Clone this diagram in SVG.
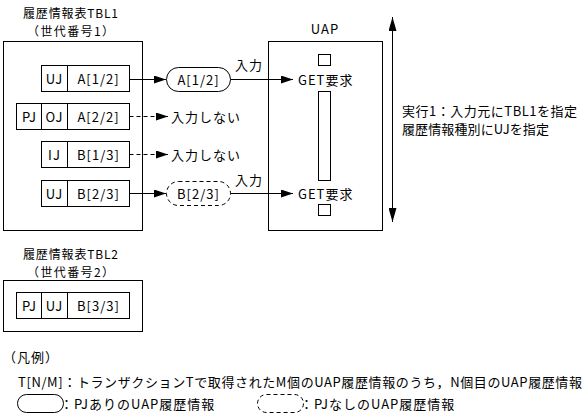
<svg xmlns="http://www.w3.org/2000/svg" width="588" height="420" viewBox="0 0 588 420">
<style>
text{font-family:"Noto Sans CJK JP","Noto Sans",sans-serif;font-size:13px;fill:#000;letter-spacing:1px;dominant-baseline:central}
.m{text-anchor:middle}
.t{font-size:12px}
.b{fill:#fff;stroke:#000;stroke-width:1}
.ln{fill:none;stroke:#000;stroke-width:1}
.d{stroke-dasharray:4 3}
</style>
<defs>
<marker id="ah" markerWidth="12" markerHeight="8" refX="12" refY="4" orient="auto" markerUnits="userSpaceOnUse"><path d="M0,0 L12,4 L0,8 Z" fill="#000"/></marker>
<marker id="ah2" markerWidth="14" markerHeight="8" refX="14" refY="4" orient="auto-start-reverse" markerUnits="userSpaceOnUse"><path d="M0,0 L14,4 L0,8 Z" fill="#000"/></marker>
</defs>
<rect width="588" height="420" fill="#fff"/>

<g id="tbl1">
<text class="m t" x="71" y="12" textLength="96">履歴情報表TBL1</text>
<text class="m t" x="71" y="30" textLength="88">（世代番号1）</text>
<rect class="b" x="3.5" y="41.5" width="139" height="189"/>
</g>
<g id="row1">
<rect class="b" x="41.5" y="65.5" width="88" height="26"/>
<line class="ln" x1="67.5" y1="65.5" x2="67.5" y2="91.5"/>
<text class="m" x="54.5" y="78">UJ</text>
<text class="m" x="98.5" y="78">A[1/2]</text>
</g>
<g id="row2">
<rect class="b" x="16.5" y="103.5" width="113" height="26"/>
<line class="ln" x1="41.5" y1="103.5" x2="41.5" y2="129.5"/>
<line class="ln" x1="67.5" y1="103.5" x2="67.5" y2="129.5"/>
<text class="m" x="29.5" y="116">PJ</text>
<text class="m" x="54.5" y="116">OJ</text>
<text class="m" x="98.5" y="116">A[2/2]</text>
</g>
<g id="row3">
<rect class="b" x="41.5" y="141.5" width="88" height="26"/>
<line class="ln" x1="67.5" y1="141.5" x2="67.5" y2="167.5"/>
<text class="m" x="54.5" y="154">IJ</text>
<text class="m" x="98.5" y="154">B[1/3]</text>
</g>
<g id="row4">
<rect class="b" x="41.5" y="180.5" width="88" height="26"/>
<line class="ln" x1="67.5" y1="180.5" x2="67.5" y2="206.5"/>
<text class="m" x="54.5" y="193">UJ</text>
<text class="m" x="98.5" y="193">B[2/3]</text>
</g>

<g id="pillA">
<rect class="b" x="166.5" y="67.5" width="64" height="24" rx="12"/>
<text class="m" x="198.5" y="79.5">A[1/2]</text>
</g>
<g id="pillB">
<rect class="b d" x="166.5" y="181.5" width="64" height="24" rx="12"/>
<text class="m" x="198.5" y="193.5">B[2/3]</text>
</g>

<g id="uap">
<text class="m" x="325" y="28">UAP</text>
<rect class="b" x="268.5" y="41.5" width="114" height="189"/>
<rect class="b" x="318.5" y="54.5" width="12" height="11"/>
<rect class="b" x="318.5" y="91.5" width="12" height="89"/>
<rect class="b" x="318.5" y="204.5" width="12" height="11"/>
<text x="298" y="79.5">GET要求</text>
<text x="298" y="193.5">GET要求</text>
</g>

<g id="connectors">
<line class="ln" x1="129.5" y1="79.5" x2="166" y2="79.5" marker-end="url(#ah)"/>
<line class="ln" x1="230.5" y1="79.5" x2="293" y2="79.5" marker-end="url(#ah)"/>
<line class="ln d" x1="129.5" y1="116.5" x2="168" y2="116.5" marker-end="url(#ah)"/>
<line class="ln d" x1="129.5" y1="154.5" x2="168" y2="154.5" marker-end="url(#ah)"/>
<line class="ln" x1="129.5" y1="193.5" x2="166" y2="193.5" marker-end="url(#ah)"/>
<line class="ln" x1="230.5" y1="193.5" x2="293" y2="193.5" marker-end="url(#ah)"/>
<line class="ln" x1="392.5" y1="17" x2="392.5" y2="222" marker-start="url(#ah2)" marker-end="url(#ah2)"/>
<text x="235" y="64">入力</text>
<text x="235" y="179">入力</text>
<text x="171" y="116">入力しない</text>
<text x="171" y="154">入力しない</text>
</g>

<g id="note">
<text x="402" y="110" textLength="176">実行1：入力元にTBL1を指定</text>
<text x="402" y="128" textLength="148">履歴情報種別にUJを指定</text>
</g>

<g id="tbl2">
<text class="m t" x="71" y="253" textLength="96">履歴情報表TBL2</text>
<text class="m t" x="71" y="271" textLength="88">（世代番号2）</text>
<rect class="b" x="3.5" y="280.5" width="139" height="51"/>
<rect class="b" x="16.5" y="292.5" width="113" height="26"/>
<line class="ln" x1="41.5" y1="292.5" x2="41.5" y2="318.5"/>
<line class="ln" x1="67.5" y1="292.5" x2="67.5" y2="318.5"/>
<text class="m" x="29.5" y="305">PJ</text>
<text class="m" x="54.5" y="305">UJ</text>
<text class="m" x="98.5" y="305">B[3/3]</text>
</g>

<g id="legend">
<text x="3" y="356">（凡例）</text>
<text x="18" y="381" textLength="565">T[N/M]：トランザクションTで取得されたM個のUAP履歴情報のうち，N個目のUAP履歴情報</text>
<rect class="b" x="17.5" y="394.5" width="46" height="18" rx="9"/>
<text x="60" y="403">：PJありのUAP履歴情報</text>
<rect class="b d" x="257.5" y="394.5" width="46" height="18" rx="9"/>
<text x="300" y="403">：PJなしのUAP履歴情報</text>
</g>
</svg>
